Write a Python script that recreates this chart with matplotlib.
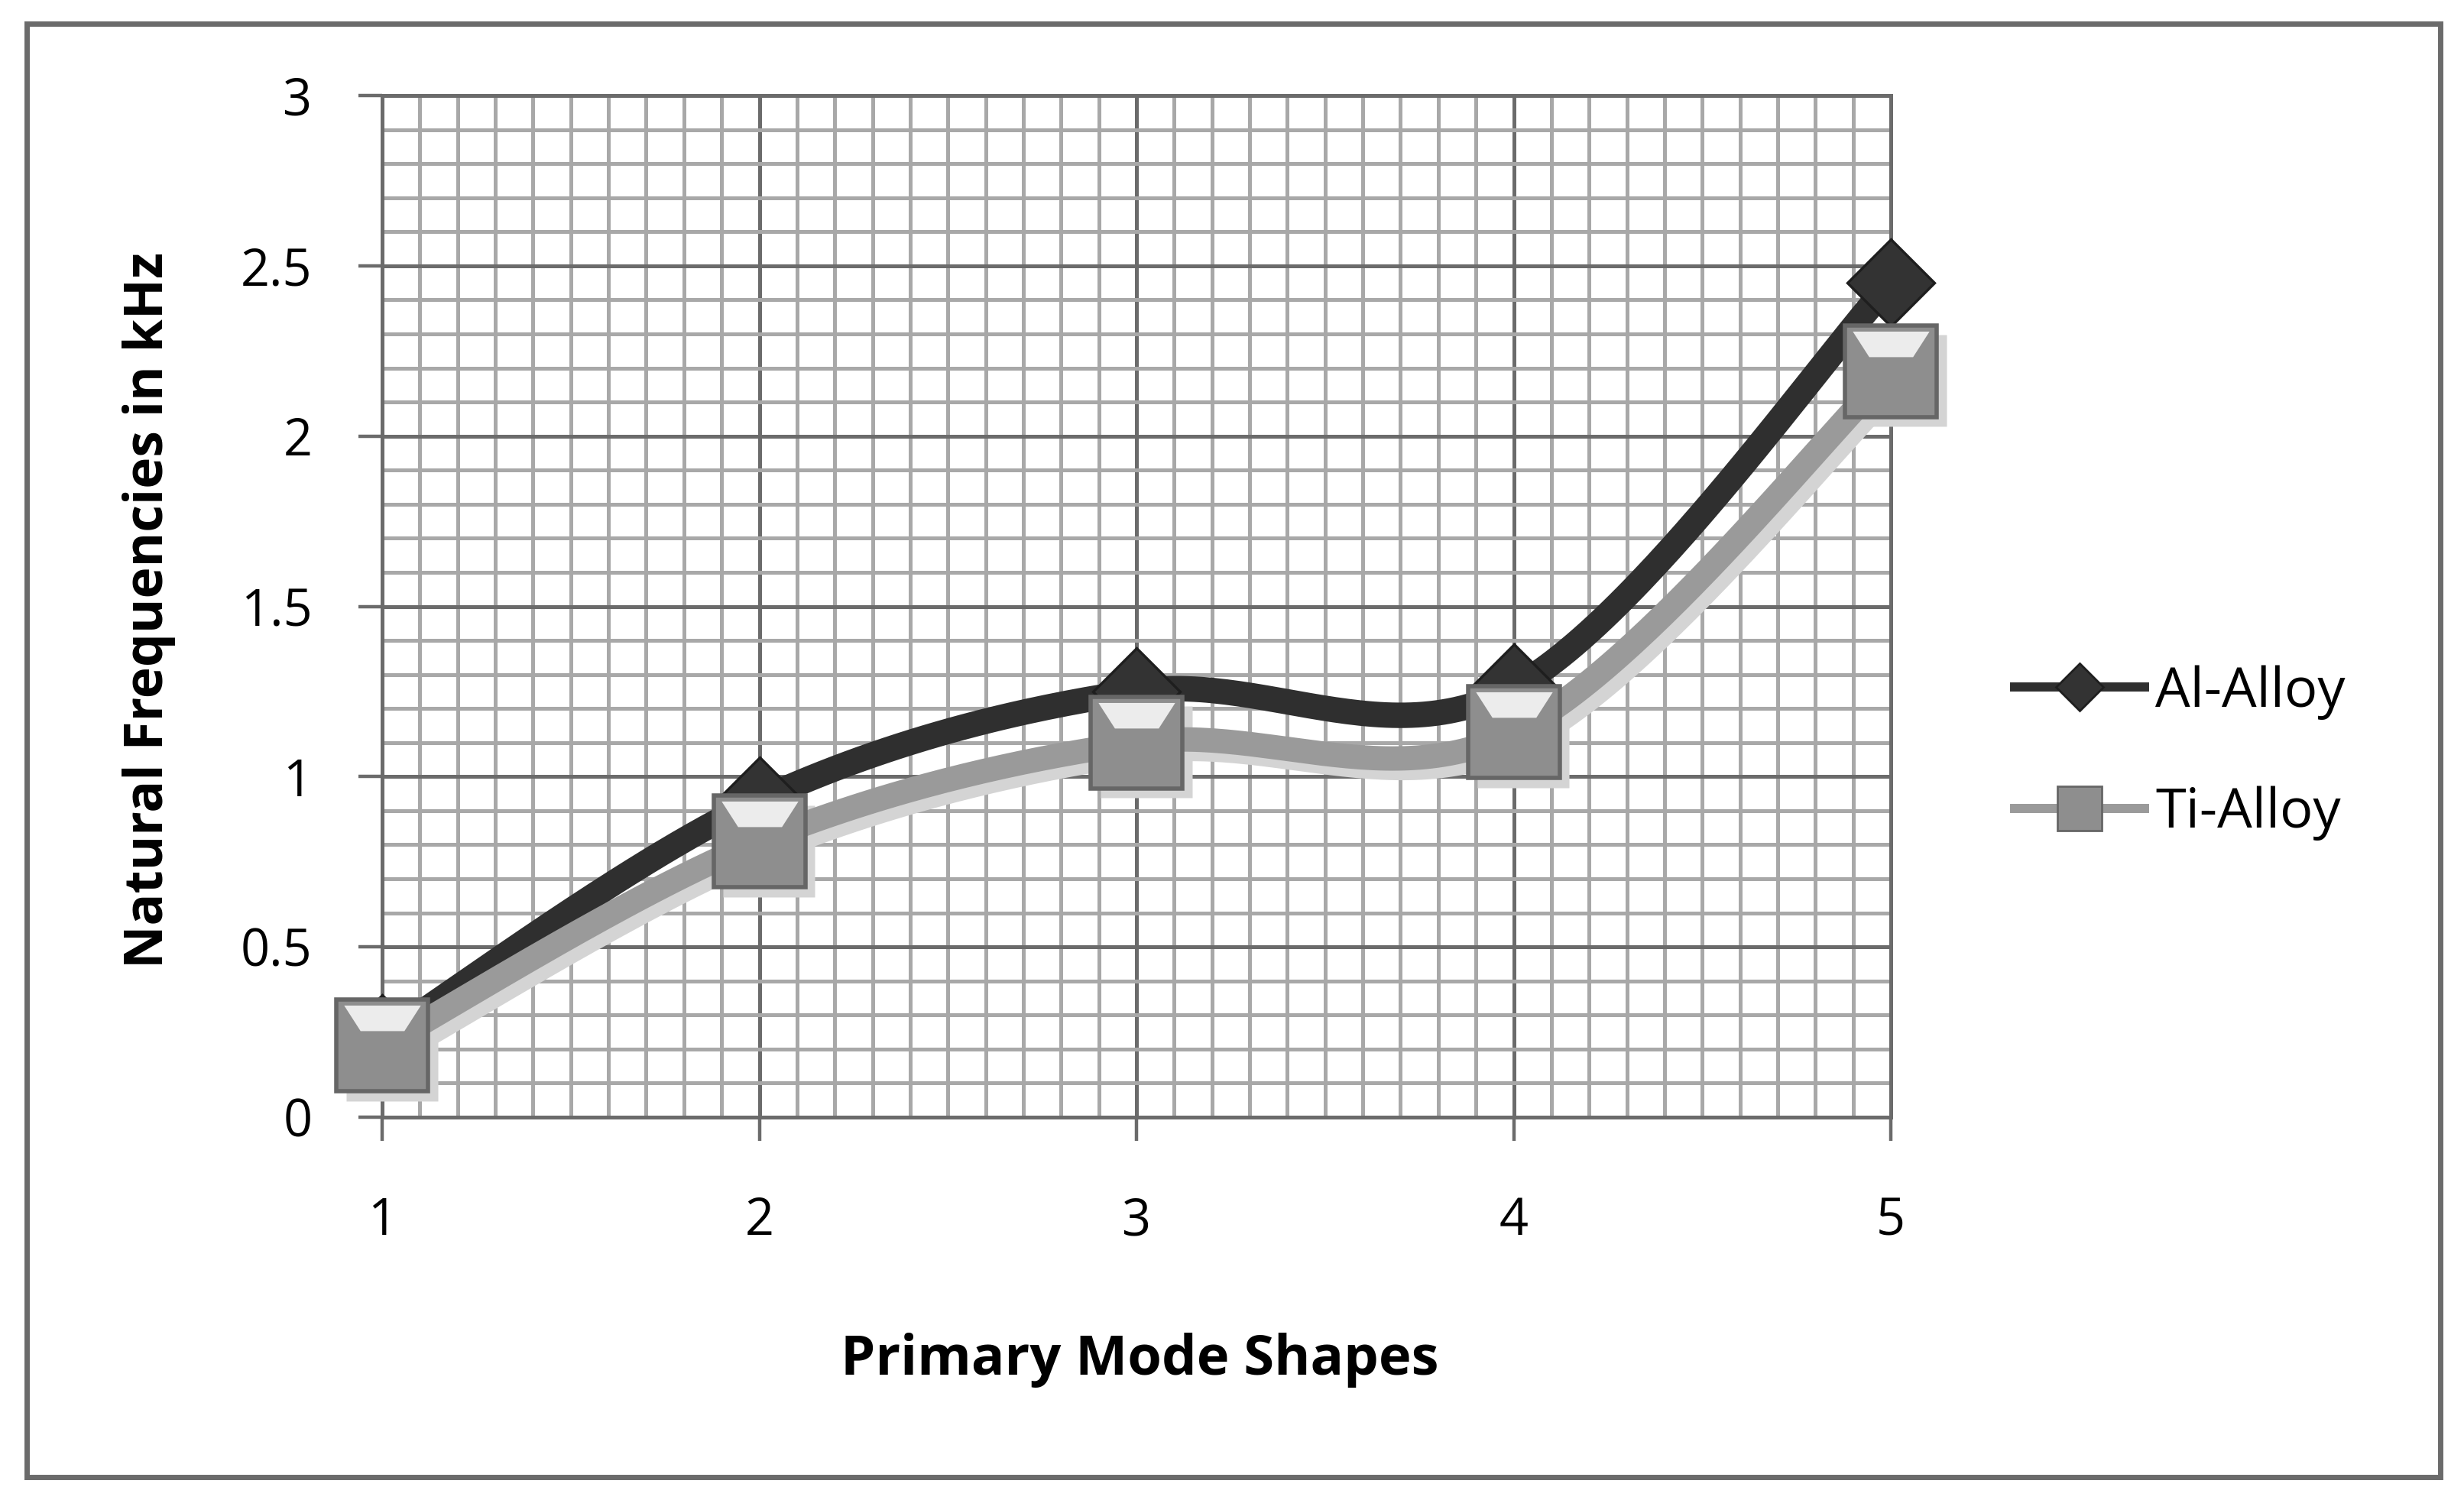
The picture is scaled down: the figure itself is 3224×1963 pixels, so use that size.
import matplotlib
import matplotlib.pyplot as plt
import numpy as np
from matplotlib.lines import Line2D
from matplotlib.patches import Rectangle
from matplotlib.path import Path
from matplotlib.ticker import MultipleLocator
from matplotlib.transforms import ScaledTranslation

matplotlib.use("Agg")

plt.rcParams["font.family"] = ["Open Sans", "DejaVu Sans"]

modes = [1, 2, 3, 4, 5]
al_alloy = [0.23, 0.93, 1.25, 1.26, 2.45]
ti_alloy = [0.21, 0.81, 1.10, 1.13, 2.19]
series_names = ["Al-Alloy", "Ti-Alloy"]
y_ticks = [0, 0.5, 1, 1.5, 2, 2.5, 3]
y_tick_labels = ["0", "0.5", "1", "1.5", "2", "2.5", "3"]

DPI = 200
W, H = 3224, 1963
FS = 24

DARK = "#2f2f2f"
GREY = "#9a9a9a"
MAJOR = "#6b6b6b"
MINOR = "#a8a8a8"


def smooth(xs, ys, n=60):
    # bezier smoothing through the points, like Excel's "smoothed line"
    p = np.column_stack([xs, ys]).astype(float)
    out = []
    for i in range(len(p) - 1):
        p0 = p[i - 1] if i > 0 else p[i]
        p3 = p[i + 2] if i + 2 < len(p) else p[i + 1]
        p1, p2 = p[i], p[i + 1]
        c1 = p1 + (p2 - p0) / 6
        c2 = p2 - (p3 - p1) / 6
        t = np.linspace(0, 1, n)[:, None]
        seg = (1 - t) ** 3 * p1 + 3 * (1 - t) ** 2 * t * c1 + 3 * (1 - t) * t ** 2 * c2 + t ** 3 * p2
        out.append(seg if i == 0 else seg[1:])
    out = np.vstack(out)
    return out[:, 0], out[:, 1]


fig = plt.figure(figsize=(W / DPI, H / DPI), dpi=DPI)
fig.patch.set_facecolor("white")
fig.patches.append(
    Rectangle((35 / W, 1 - 1933 / H), (3193 - 35) / W, (1933 - 31) / H,
              transform=fig.transFigure, fill=False, edgecolor=MAJOR, linewidth=2.5)
)

ax = fig.add_axes([500 / W, 1 - 1462 / H, (2474 - 500) / W, (1462 - 125) / H])
ax.set_xlim(1, 5)
ax.set_ylim(0, 3)
ax.xaxis.set_major_locator(MultipleLocator(1))
ax.xaxis.set_minor_locator(MultipleLocator(0.1))
ax.set_yticks(y_ticks, y_tick_labels)
ax.yaxis.set_minor_locator(MultipleLocator(0.1))
ax.grid(which="minor", color=MINOR, linewidth=1.8)
ax.grid(which="major", color=MAJOR, linewidth=1.8)
ax.set_axisbelow(True)
ax.tick_params(which="minor", length=0)
ax.tick_params(which="major", direction="out", length=11, width=1.6, color=MAJOR,
               labelsize=FS, labelcolor="black")
ax.tick_params(axis="x", pad=26)
ax.tick_params(axis="y", pad=22)
for s in ax.spines.values():
    s.set_color(MAJOR)
    s.set_linewidth(1.8)

# Al-Alloy
xs, ys = smooth(modes, al_alloy)
ax.plot(xs, ys, color=DARK, lw=12, solid_capstyle="round", zorder=3, clip_on=False)
ax.plot(modes, al_alloy, ls="none", marker="D", ms=29, mfc="#333333", mec="#1e1e1e",
        mew=1.2, zorder=4, clip_on=False)

# Ti-Alloy with soft shadow
shadow = ax.transData + ScaledTranslation(4.5 / 72, -4.5 / 72, fig.dpi_scale_trans)
xt, yt = smooth(modes, ti_alloy)
ax.plot(xt, yt, color="#d4d4d4", lw=11.5, transform=shadow, zorder=5, clip_on=False)
ax.plot(modes, ti_alloy, ls="none", marker="s", ms=43, mfc="#d4d4d4", mec="none",
        transform=shadow, zorder=5, clip_on=False)
ax.plot(xt, yt, color=GREY, lw=11.5, solid_capstyle="round", zorder=6, clip_on=False)
ax.plot(modes, ti_alloy, ls="none", marker="s", ms=43, mfc="#8e8e8e", mec="#666666",
        mew=2, zorder=7, clip_on=False)
shine = Path([(-0.42, 0.44), (0.42, 0.44), (0.24, 0.16), (-0.24, 0.16), (-0.42, 0.44)],
             [Path.MOVETO, Path.LINETO, Path.LINETO, Path.LINETO, Path.CLOSEPOLY])
ax.plot(modes, ti_alloy, ls="none", marker=shine, ms=43 * 0.88, mfc="#ececec", mec="none",
        zorder=8, clip_on=False)

handles = [
    Line2D([], [], color=DARK, lw=4.3, marker="D", ms=16, mfc="#333333", mec="#1e1e1e"),
    Line2D([], [], color=GREY, lw=4.3, marker="s", ms=21, mfc="#8e8e8e", mec="#666666"),
]
fig.legend(handles, series_names, loc="center left", bbox_to_anchor=(2636 / W, 1 - 985 / H),
           frameon=False, fontsize=26, handlelength=2.35, handletextpad=0.2,
           labelspacing=1.2, borderpad=0, borderaxespad=0)

fig.text(1491 / W, 1 - 1780 / H, "Primary Mode Shapes", ha="center", va="center",
         fontsize=26, fontweight="bold")
fig.text(195 / W, 1 - 798 / H, "Natural Frequencies in kHz", ha="center", va="center",
         rotation=90, fontsize=25, fontweight="bold")

fig.savefig("out.png", dpi=DPI)
plt.close(fig)
